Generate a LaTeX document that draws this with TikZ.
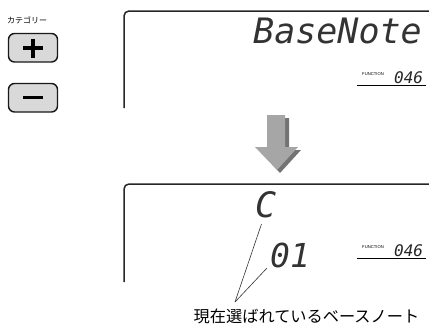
\documentclass[tikz,border=0pt]{standalone}
\usepackage{fontspec}
\newfontfamily\jpfont{Noto Sans CJK JP}
\newfontfamily\lcdfont{DejaVu Sans Mono}
\newfontfamily\smallsans{Liberation Sans}
\begin{document}
\begin{tikzpicture}[x=1pt,y=-1pt,
  frame/.style={line width=1.5pt,draw=black!85,rounded corners=5pt},
  btn/.style={draw=black!90,line width=1.4pt,fill=black!15,rounded corners=6pt},
  lcd/.style={font=\lcdfont\itshape,text=black!80,inner sep=0pt},
  fn/.style={font=\smallsans\fontsize{4.2}{5}\selectfont,inner sep=0pt},
  num/.style={font=\lcdfont\itshape\fontsize{16}{18}\selectfont,text=black!85,inner sep=0pt},
  leader/.style={line width=0.6pt,draw=black!80}]
\useasboundingbox (0,0) rectangle (429,324);

% category buttons
\node[font=\jpfont\fontsize{8}{9}\selectfont,anchor=west,inner sep=0pt] (cat) at (7,20.5) {カテゴリー};
\draw[btn] (8.5,33.5) rectangle (57.5,62) node[midway] (plus) {};
\draw[line width=3.6pt] (23,48) -- (43,48);
\draw[line width=3.6pt] (33,38.5) -- (33,57.5);
\draw[btn] (8.5,83.5) rectangle (57.5,112) node[midway] (minus) {};
\draw[line width=3.6pt] (23,97.5) -- (43,97.5);

% top display
\draw[frame] (432,11) -- (124,11) -- (124,108);
\node[lcd,font=\lcdfont\itshape\fontsize{35}{38}\selectfont,anchor=base west] (title) at (253,43) {BaseNote};
\node[fn,anchor=base west] (fn1) at (362,75.5) {FUNCTION};
\node[num,anchor=base west] (n1) at (394,83) {046};
\draw[line width=0.9pt] (357,85.5) -- (426,85.5);

% arrow
\fill[black!55] (271,118) -- (289,118) -- (289,150) -- (301,150) -- (280,173) -- (259,150) -- (271,150) -- cycle;
\fill[black!35] (267,115) -- (285,115) -- (285,147) -- (298,147) -- (277,170) -- (255,147) -- (267,147) -- cycle;

% bottom display
\draw[frame] (432,184) -- (124,184) -- (124,282);
\node[lcd,font=\lcdfont\itshape\fontsize{35}{38}\selectfont,anchor=base west] (note) at (255,217) {C};
\node[lcd,font=\lcdfont\itshape\fontsize{33}{36}\selectfont,anchor=base west] (val) at (270,267) {01};
\node[fn,anchor=base west] (fn2) at (362,248.5) {FUNCTION};
\node[num,anchor=base west] (n2) at (394,256) {046};
\draw[line width=0.9pt] (357,258.5) -- (426,258.5);

% leader lines
\coordinate (tip) at (235,302);
\coordinate (toC) at (261.5,224);
\coordinate (to01) at (267,268);
\draw[leader] (tip) -- (toC);
\draw[leader] (tip) -- (to01);
\node[font=\jpfont\fontsize{16.2}{18}\selectfont,anchor=base,inner sep=0pt] (caption) at (306.5,322.5) {現在選ばれているベースノート};
\end{tikzpicture}
\end{document}
